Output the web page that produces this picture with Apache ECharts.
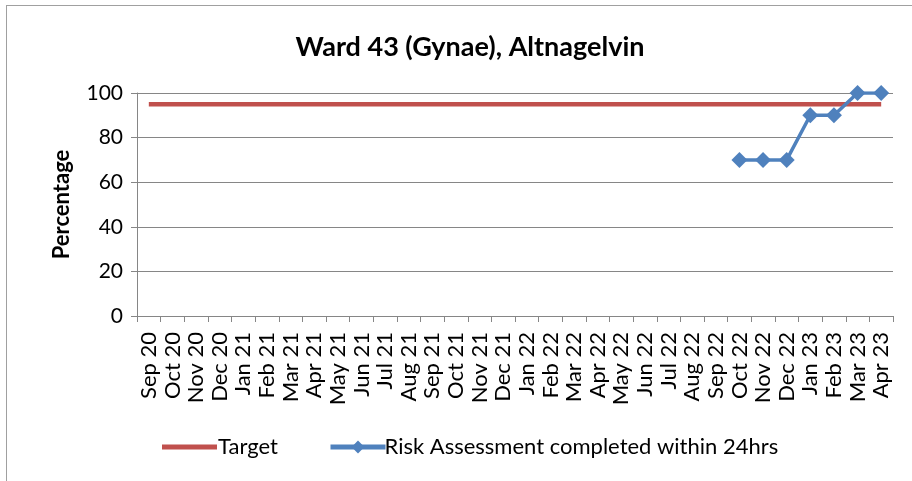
<!DOCTYPE html>
<html>
<head>
<meta charset="utf-8">
<script src="https://cdn.jsdelivr.net/npm/echarts@6/dist/echarts.min.js"></script>
<style>
html,body{margin:0;padding:0;background:#fff;}
#frame{position:absolute;left:6px;top:5px;width:920px;height:490px;border:1px solid #a0a0a0;box-sizing:border-box;}
#main{position:absolute;left:0;top:0;width:912px;height:481px;}
</style>
</head>
<body>
<div id="frame"></div>
<div id="main"></div>
<script>
// months shown on the x axis
var months = ['Sep 20','Oct 20','Nov 20','Dec 20','Jan 21','Feb 21','Mar 21','Apr 21','May 21','Jun 21','Jul 21','Aug 21',
	'Sep 21','Oct 21','Nov 21','Dec 21','Jan 22','Feb 22','Mar 22','Apr 22','May 22','Jun 22','Jul 22','Aug 22',
	'Sep 22','Oct 22','Nov 22','Dec 22','Jan 23','Feb 23','Mar 23','Apr 23'];
var target = [95,95,95,95,95,95,95,95,95,95,95,95,95,95,95,95,95,95,95,95,95,95,95,95,95,95,95,95,95,95,95,95];
var riskDone = [null,null,null,null,null,null,null,null,null,null,null,null,null,null,null,null,null,null,null,null,null,null,null,null,
	null,70,70,70,90,90,100,100];
var yTicks = [0,20,40,60,80,100];

var font = 'Lato, "Open Sans", sans-serif';
var riskName = 'Risk Assessment completed within 24hrs';
var chart = echarts.init(document.getElementById('main'));
chart.setOption({
	animation: false,
	title: {
		text: 'Ward 43 (Gynae), Altnagelvin',
		left: 465, top: 29, textAlign: 'center',
		textStyle: {fontFamily: font, fontSize: 27, fontWeight: 'bold', color: '#000'}
	},
	grid: {left: 137, right: 19, top: 93, bottom: 165},
	legend: [
		{
			left: 157, top: 431,
			icon: 'rect', itemWidth: 55, itemHeight: 5,
			textStyle: {fontFamily: font, fontSize: 22, color: '#000', padding: [0,0,0,-4]},
			data: ['Target']
		},
		{
			left: 323, top: 431,
			itemWidth: 55, itemHeight: 16,
			lineStyle: {width: 5},
			textStyle: {fontFamily: font, fontSize: 22, color: '#000', padding: [0,0,0,-6]},
			data: [riskName]
		}
	],
	xAxis: {
		type: 'category',
		data: months,
		boundaryGap: true,
		axisLine: {lineStyle: {color: '#868686', width: 1}},
		axisTick: {show: true, length: 6, lineStyle: {color: '#868686'}},
		axisLabel: {rotate: 90, interval: 0, fontFamily: font, fontSize: 22, color: '#000', margin: 16}
	},
	yAxis: {
		type: 'value',
		min: yTicks[0], max: yTicks[yTicks.length - 1], interval: 20,
		name: 'Percentage', nameLocation: 'middle', nameGap: 64, nameRotate: 90,
		nameTextStyle: {fontFamily: font, fontSize: 22, fontWeight: 'bold', color: '#000'},
		axisLine: {show: true, lineStyle: {color: '#868686'}},
		axisTick: {show: true, length: 6, lineStyle: {color: '#868686'}},
		axisLabel: {fontFamily: font, fontSize: 21, color: '#000', margin: 14},
		splitLine: {lineStyle: {color: '#868686', width: 1}}
	},
	series: [
		{
			name: 'Target', type: 'line', data: target,
			symbol: 'none',
			lineStyle: {color: '#C0504D', width: 4.5},
			itemStyle: {color: '#C0504D'}
		},
		{
			name: riskName, type: 'line', data: riskDone,
			symbol: 'diamond', symbolSize: 16,
			lineStyle: {color: '#4F81BD', width: 3.5},
			itemStyle: {color: '#4F81BD'}
		}
	]
});
</script>
</body>
</html>
